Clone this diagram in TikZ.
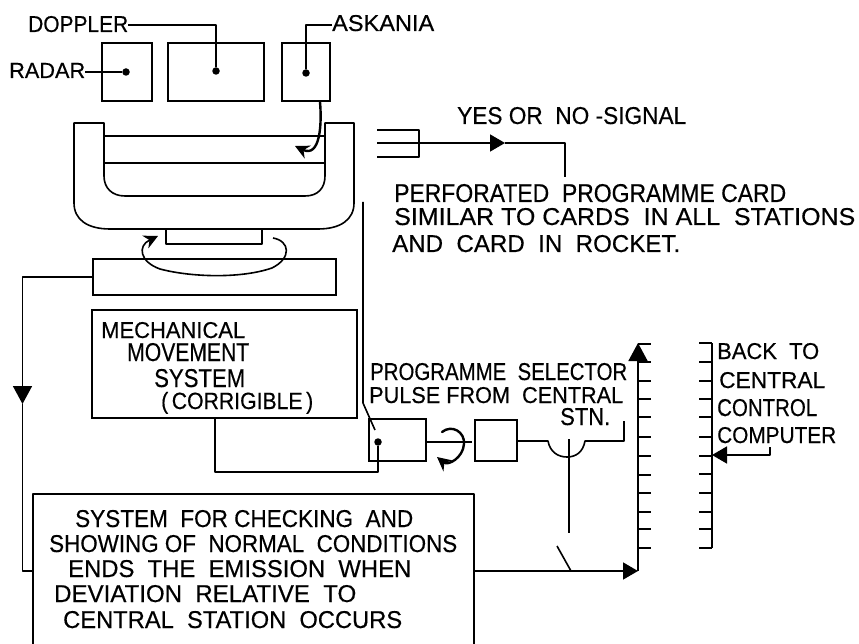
\documentclass[tikz,border=0pt]{standalone}
\usepackage{fontspec}
\usepackage{graphicx}
\setmainfont{Liberation Sans}[FakeBold=0.45]
\usetikzlibrary{arrows.meta}
\newcommand{\capsline}[3]{\resizebox{#1pt}{#2pt}{#3}}
\tikzset{
  x=1pt,y=-1pt,
  ln/.style={line width=1.6pt,line join=round,black},
  heavy/.style={line width=2.4pt,line cap=round,black},
  blk/.style={draw,line width=1.6pt,inner sep=0pt,black},
  lbl/.style={anchor=base west,inner sep=0pt,text=black},
  dotn/.style={circle,fill=black,inner sep=0pt,minimum size=7.5pt},
  tipbig/.style={-{Triangle[length=18pt,width=19pt]}},
  tipmid/.style={-{Triangle[length=15pt,width=17pt]}},
  tipcurl/.style={-{Stealth[length=14pt,width=14pt]}},
}
\begin{document}
\begin{tikzpicture}
\useasboundingbox[fill=white] (0,0) rectangle (859,644);

% top instruments
\node[blk,minimum width=50pt,minimum height=58pt] (radarbox) at (127,72) {};
\node[blk,minimum width=96pt,minimum height=58pt] (dopplerbox) at (216,72) {};
\node[blk,minimum width=48pt,minimum height=58pt] (askaniabox) at (306,72) {};
\node[dotn] (radardot) at (126,72) {};
\node[dotn] (dopplerdot) at (216,71) {};
\node[dotn] (askaniadot) at (306,73) {};
\node[lbl] (doppler) at (28,32) {\capsline{100}{16}{DOPPLER}};
\node[lbl] (radar) at (9,78) {\capsline{76}{15}{RADAR}};
\node[lbl] (askania) at (332,31) {\capsline{102}{16}{ASKANIA}};
\draw[ln] (radar.east |- radardot) -- (radardot);
\draw[ln] (doppler.east |- 0,25) -- (216,25) -- (dopplerdot);
\draw[ln] (askania.west |- 0,25) -- (306,25) -- (askaniadot);

% cradle
\draw[ln] (104,136) -- (104,123) -- (74,123) -- (74,203) .. controls (74,220) and (88,229) .. (110,229)
  -- (318,229) .. controls (340,229) and (354,220) .. (354,203) -- (354,123) -- (325,123) -- (325,136);
\draw[ln] (104,136) -- (325,136) -- (325,176) .. controls (325,188) and (318,196) .. (305,196)
  -- (125,196) .. controls (112,196) and (104,188) .. (104,176) -- cycle;
\draw[ln] (104,163) -- (325,163);
\coordinate (curlA) at (320,102);
\coordinate (curlB) at (295,146);
\draw[heavy,tipcurl] (curlA) .. controls (322,125) and (320,158) .. (curlB);

% stem and base
\draw[ln] (166,229) -- (166,244) -- (262,244) -- (262,229);
\node[blk,minimum width=243pt,minimum height=36pt] (basebox) at (214.5,277) {};
\coordinate (turnA) at (273,238);
\coordinate (turnB) at (158,236);
\draw[ln,tipcurl] (turnA) .. controls (290,241) and (292,258) .. (272,268)
  .. controls (240,279) and (190,277) .. (160,269) .. controls (140,262) and (137,246) .. (turnB);

% mechanical movement box
\node[blk,minimum width=265pt,minimum height=108pt] (mechbox) at (224.5,364) {};
\node[lbl] at (101,338) {\capsline{144}{16}{MECHANICAL}};
\node[lbl] at (127,361) {\capsline{122}{18}{MOVEMENT}};
\node[lbl] at (154,387) {\capsline{91}{18}{SYSTEM}};
\node[lbl] at (161,409) {\capsline{152}{17}{(\,CORRIGIBLE\,)}};

% programme selector
\node[blk,minimum width=57pt,minimum height=42pt] (selA) at (397.5,440) {};
\node[blk,minimum width=42pt,minimum height=41pt] (selB) at (496,440.5) {};
\node[dotn] (seldot) at (378,442) {};
\coordinate (mechout) at (215,418);
\coordinate (cardrod) at (363,202);
\coordinate (rodend) at (375,430);
\coordinate (hubend) at (472,442);
\draw[ln] (mechout) -- (215,472) -- (378,472) -- (seldot);
\draw[ln] (cardrod) -- (363,403) -- (rodend);
\draw[ln] (selA.east |- hubend) -- (hubend);
\coordinate (wheelA) at (442,432);
\coordinate (wheelB) at (437,457);
\draw[heavy,tipcurl] (wheelA) .. controls (452,424) and (465,432) .. (464,444)
  .. controls (463,458) and (448,466) .. (wheelB);
\coordinate (bridgeA) at (548,441);
\coordinate (bridgeB) at (585,441);
\coordinate (stnend) at (624,421);
\draw[ln] (selB.east |- bridgeA) -- (bridgeA) .. controls (550,452) and (558,457) .. (567,457)
  .. controls (576,457) and (583,452) .. (bridgeB) -- (624,441) -- (stnend);
\coordinate (rodtop) at (569,439);
\coordinate (rodbot) at (569,533);
\draw[line width=2.4pt,black] (rodtop) -- (rodbot);
\node[lbl] at (370,380) {\capsline{257}{17}{PROGRAMME\ \ SELECTOR}};
\node[lbl] at (369,403) {\capsline{254}{16}{PULSE\ FROM\ \ CENTRAL}};
\node[lbl] at (560,425) {\capsline{50}{17}{STN.}};

% checking system (cut by the lower edge)
\coordinate (chkBL) at (33,644);
\coordinate (chkTL) at (33,494);
\coordinate (chkTR) at (474,494);
\coordinate (chkBR) at (474,644);
\coordinate (chkW) at (33,571);
\coordinate (chkE) at (474,571);
\draw[ln] (chkBL) -- (chkTL) -- (chkTR) -- (chkBR);
\node[lbl] at (75,527) {\capsline{338}{17}{SYSTEM\ \ FOR\ CHECKING\ \ AND}};
\node[lbl] at (49,552) {\capsline{408}{17}{SHOWING\ OF\ \ NORMAL\ \ CONDITIONS}};
\node[lbl] at (68,577) {\capsline{343}{17}{ENDS\ \ THE\ \ EMISSION\ \ WHEN}};
\node[lbl] at (54,602) {\capsline{302}{17}{DEVIATION\ \ RELATIVE\ \ TO}};
\node[lbl] at (63,628) {\capsline{339}{17}{CENTRAL\ \ STATION\ \ OCCURS}};

% feedback on the left
\coordinate (leftmid) at (22.5,404);
\draw[ln,tipbig] (basebox.west) -- (22.5,277) -- (leftmid);
\draw[ln] (leftmid) -- (22.5,571) -- (chkW);

% contact and left bar
\coordinate (barbot) at (638,571);
\coordinate (bartop) at (638,343);
\coordinate (bladeA) at (557,546);
\coordinate (bladeB) at (571,571);
\draw[ln,tipmid] (chkE) -- (barbot);
\draw[ln] (bladeA) -- (bladeB);
\draw[ln,tipbig] (barbot) -- (bartop);
\foreach \yy in {344,362,381,399,417,437,456,475,493,512,529,548}
  \draw[ln] (638,\yy) -- (651,\yy);

% right bar
\coordinate (rbartop) at (712,343);
\coordinate (rbarbot) at (712,548);
\draw[ln] (rbartop) -- (rbarbot);
\foreach \yy in {343,362,381,399,417,437,456,474,493,512,529,548}
  \draw[ln] (699,\yy) -- (712,\yy);
\node[lbl] at (717,359) {\capsline{102}{16}{BACK\ \ TO}};
\node[lbl] at (719,388) {\capsline{106}{16}{CENTRAL}};
\node[lbl] at (717,416) {\capsline{100}{17}{CONTROL}};
\node[lbl] at (717,443) {\capsline{119}{16}{COMPUTER}};
\coordinate (backA) at (770,447);
\coordinate (backB) at (770,455);
\coordinate (backC) at (712,455);
\draw[ln,tipmid] (backA) -- (backB) -- (backC);

% card and signal
\coordinate (cardT) at (377,130);
\coordinate (cardM) at (377,143);
\coordinate (cardB) at (377,157);
\coordinate (cardTR) at (419,130);
\coordinate (cardMR) at (419,143);
\coordinate (cardBR) at (419,157);
\coordinate (sigmid) at (505,143);
\coordinate (sigcorner) at (565,143);
\coordinate (sigend) at (565,177);
\draw[ln] (cardT) -- (cardTR) -- (cardBR) -- (cardB);
\draw[ln] (cardM) -- (cardMR);
\draw[ln,tipmid] (cardMR) -- (sigmid);
\draw[ln] (sigmid) -- (sigcorner) -- (sigend);
\node[lbl] at (457,124) {\capsline{229}{17}{YES\ OR\ \ NO\ -SIGNAL}};
\node[lbl] at (394,202) {\capsline{392}{18}{PERFORATED\ \ PROGRAMME\ CARD}};
\node[lbl] at (394,225) {\capsline{461}{17}{SIMILAR\ TO\ CARDS\ \ IN\ ALL\ \ STATIONS}};
\node[lbl] at (392,252) {\capsline{288}{17}{AND\ \ CARD\ \ IN\ \ ROCKET.}};
\end{tikzpicture}
\end{document}
